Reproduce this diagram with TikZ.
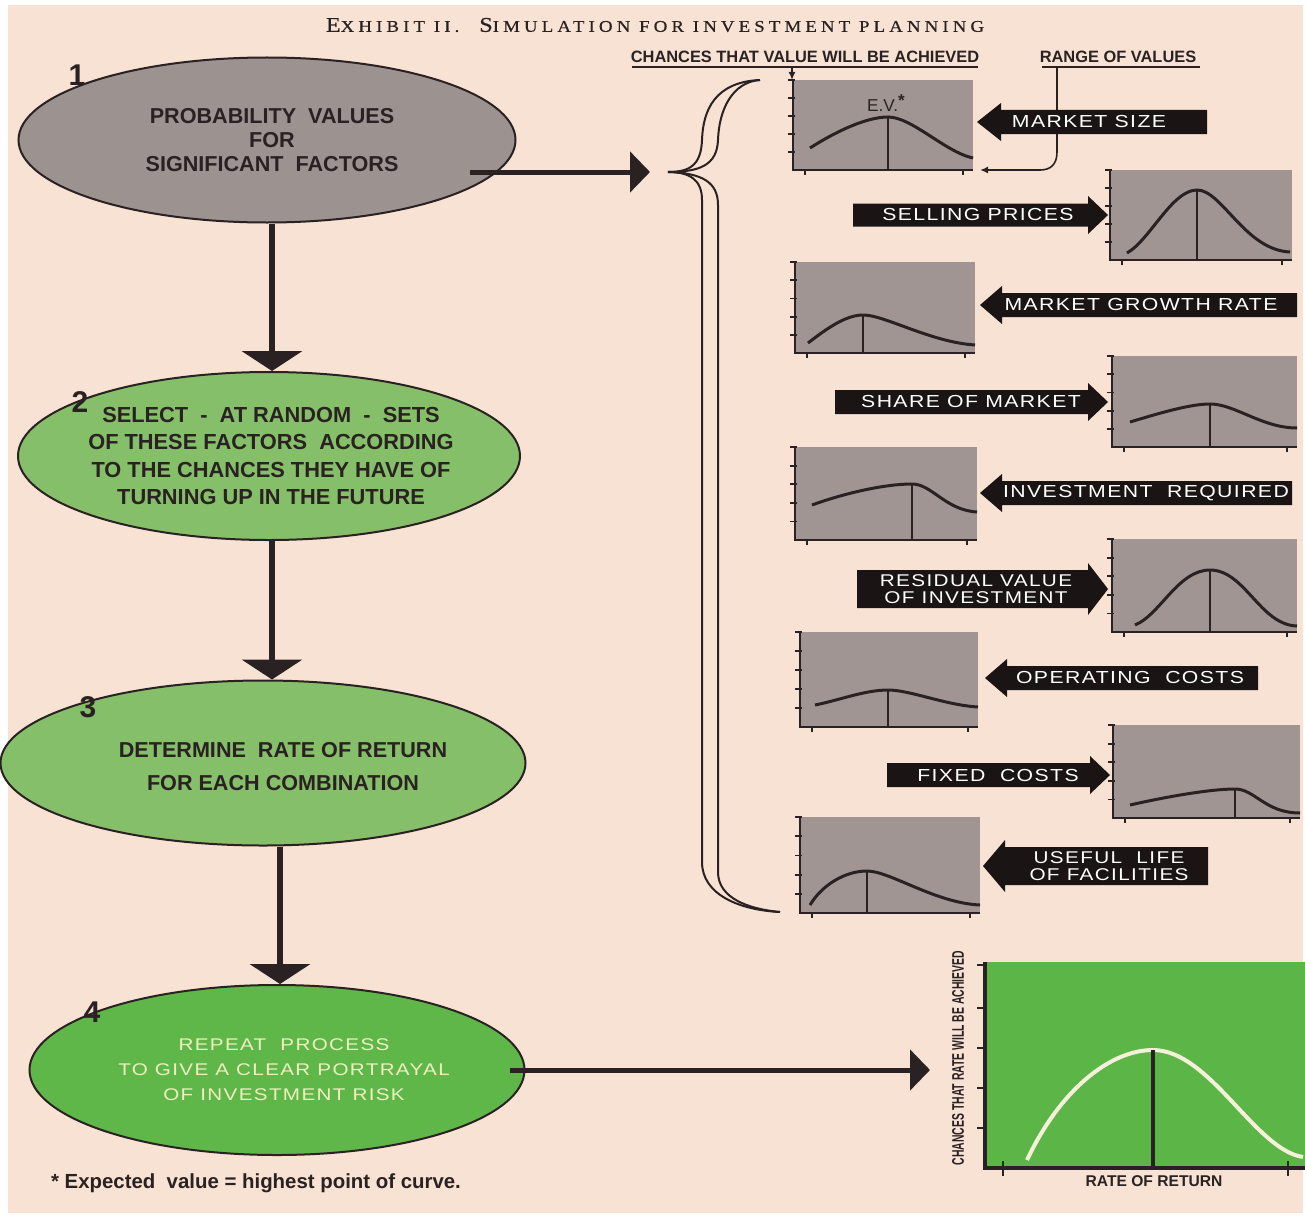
\documentclass[tikz,border=0pt]{standalone}
\usepackage{fontspec}
\newfontfamily\hv{Liberation Sans}
\newfontfamily\pen[FakeStretch=1.22,LetterSpace=8]{Liberation Sans}
\newfontfamily\ttl[FakeStretch=1.15,LetterSpace=25,FakeBold=0.6]{Liberation Serif}
\newfontfamily\cond[FakeStretch=0.62]{Liberation Sans}
\usetikzlibrary{arrows.meta,shapes.geometric}
\definecolor{bg}{HTML}{F8E2D3}
\definecolor{ellgray}{HTML}{9C9391}
\definecolor{ellgreen}{HTML}{86BF69}
\definecolor{ellgreenb}{HTML}{5FB74A}
\definecolor{panel}{HTML}{A09593}
\definecolor{chartgreen}{HTML}{5CB547}
\definecolor{ink}{HTML}{2A2222}
\definecolor{penfill}{HTML}{1A1414}
\definecolor{pale}{HTML}{EFF0BF}
\definecolor{curvewhite}{HTML}{F4F0DA}
\newcommand\gchart[4]{%
  \fill[panel] (#1,#2) rectangle (#3,#4);
  \draw[axisline] (#1,#2) -- (#1,#4) -- (#3,#4);
  \foreach \i in {0,...,4} \draw[tickline] ({#1-5},{#2+\i*(#4-#2)/5}) -- ({#1+2},{#2+\i*(#4-#2)/5});
  \draw[tickline] ({#1+12},#4) -- ({#1+12},{#4+5});
  \draw[tickline] ({#3-10},#4) -- ({#3-10},{#4+5});
}
\newcommand\penL[6]{%
  \fill[penfill] (#1,#3) -- ({#1+#6},{#3-#5}) -- ({#1+#6},{#3-#4}) -- (#2,{#3-#4}) -- (#2,{#3+#4}) -- ({#1+#6},{#3+#4}) -- ({#1+#6},{#3+#5}) -- cycle;}
\newcommand\penR[6]{%
  \fill[penfill] (#2,#3) -- ({#2-#6},{#3-#5}) -- ({#2-#6},{#3-#4}) -- (#1,{#3-#4}) -- (#1,{#3+#4}) -- ({#2-#6},{#3+#4}) -- ({#2-#6},{#3+#5}) -- cycle;}
\begin{document}
\begin{tikzpicture}[x=0.5pt,y=-0.5pt,
  ell/.style={ellipse, draw=ink, line width=1pt, inner sep=0pt},
  axisline/.style={draw=ink, line width=1.1pt},
  tickline/.style={draw=ink, line width=0.9pt},
  curveline/.style={draw=ink, line width=1.5pt},
  peakline/.style={draw=ink, line width=0.8pt},
  vbig/.style={draw=ink, line width=3pt, -{Triangle[width=30pt,length=10pt]}},
  hbig/.style={draw=ink, line width=2.5pt, -{Triangle[width=20pt,length=10pt]}},
  thinline/.style={draw=ink, line width=0.8pt},
  bracel/.style={draw=ink, line width=1pt},
  pentext/.style={text=white, font=\pen\fontsize{8.7}{9}\selectfont, align=center, inner sep=0pt},
  elltext/.style={text=ink, align=center, inner sep=0pt},
  numtext/.style={text=ink, font=\hv\bfseries\fontsize{15}{15}\selectfont, inner sep=0pt},
  head/.style={text=ink, font=\hv\bfseries\fontsize{8.2}{9}\selectfont, inner sep=0pt}
]
\fill[white] (0,0) rectangle (1305,1220);
\fill[bg] (8,5) rectangle (1303,1213);
\useasboundingbox (0,0) rectangle (1305,1220);

% title
\node[text=ink, inner sep=0pt] (title) at (655,25) {\ttl{\fontsize{10.5}{10}\selectfont E}{\fontsize{8.2}{10}\selectfont XHIBIT II.}\quad{\fontsize{10.5}{10}\selectfont S}{\fontsize{8.2}{10}\selectfont IMULATION FOR INVESTMENT PLANNING}};

% ellipses
\node[ell, fill=ellgray, minimum width=248.5pt, minimum height=82.5pt] (e1) at (267,140) {};
\node[ell, fill=ellgreen, minimum width=251pt, minimum height=84pt] (e2) at (269,456) {};
\node[ell, fill=ellgreen, minimum width=262.5pt, minimum height=82.5pt] (e3) at (263,763) {};
\node[ell, fill=ellgreenb, minimum width=247.5pt, minimum height=85pt] (e4) at (277,1070) {};

\node[elltext, font=\hv\bfseries\fontsize{10.8}{12}\selectfont] (t1) at (272,140) {PROBABILITY\ \ VALUES\\FOR\\SIGNIFICANT\ \ FACTORS};
\node[elltext, font=\hv\bfseries\fontsize{10.9}{13.7}\selectfont] (t2) at (271,456) {SELECT\ \ -\ \ AT RANDOM\ \ -\ \ SETS\\OF THESE FACTORS\ \ ACCORDING\\TO THE CHANCES THEY HAVE OF\\TURNING UP IN THE FUTURE};
\node[elltext, font=\hv\bfseries\fontsize{10.8}{16.5}\selectfont] (t3) at (283,767) {DETERMINE\ \ RATE OF RETURN\\FOR EACH COMBINATION};
\node[elltext, text=pale, font=\pen\fontsize{8.45}{12.5}\selectfont] (t4) at (284,1070) {REPEAT\ \ PROCESS\\TO GIVE A CLEAR PORTRAYAL\\OF INVESTMENT RISK};

\node[numtext] (n1) at (77,75) {1};
\node[numtext] (n2) at (80,402) {2};
\node[numtext] (n3) at (88,707) {3};
\node[numtext] (n4) at (92,1012) {4};

% vertical arrows
\draw[vbig] ([xshift=2.5pt]e1.south) -- ([xshift=2.5pt]e1.south |- e2.north);
\draw[vbig] ([xshift=1.5pt]e2.south) -- ([xshift=1.5pt]e2.south |- e3.north);
\draw[vbig] ([xshift=8.5pt]e3.south) -- ([xshift=8.5pt]e3.south |- e4.north);

% horizontal arrows
\coordinate (s1) at (470,172);
\coordinate (b1) at (650,172);
\draw[hbig] (s1) -- (b1);
\coordinate (s4) at (510,1070);
\coordinate (b4) at (930,1070);
\draw[hbig] (s4) -- (b4);

% brace
\draw[bracel] (760,80) .. controls (715,82) and (703,110) .. (702,140) .. controls (701,165) and (690,172) .. (668,172) .. controls (690,172) and (702,180) .. (702,200) -- (702,862) .. controls (702,895) and (740,910) .. (780,912);
\draw[bracel] (760,80) .. controls (732,82) and (719,110) .. (718,140) .. controls (717,165) and (700,172) .. (668,172) .. controls (702,173) and (718,182) .. (718,205) -- (718,872) .. controls (718,898) and (748,909) .. (780,912);

% header labels
\node[head] (h1) at (805,57) {CHANCES THAT VALUE WILL BE ACHIEVED};
\draw[thinline] (632,67) -- (978,67);
\coordinate (h1a) at (792,67);
\coordinate (c1top) at (792,80);
\draw[thinline, -{Latex[length=4pt,width=3.5pt]}] (h1a) -- (c1top);
\node[head] (h2) at (1118,57) {RANGE OF VALUES};
\draw[thinline] (1042,67) -- (1200,67);
\coordinate (h2a) at (1057,67);
\coordinate (c1right) at (980,170);
\draw[thinline, -{Latex[length=4pt,width=3.5pt]}] (h2a) -- (1057,152) .. controls (1057,165) and (1050,170) .. (1040,170) -- (c1right);

% small charts
\gchart{793}{80}{973}{170}
\draw[curveline] (810,148) .. controls (835,132) and (866,117) .. (888,117) .. controls (912,117) and (945,152) .. (973,158);
\draw[peakline] (888,117) -- (888,170);
\node[text=ink, inner sep=0pt, font=\hv\fontsize{8.6}{9}\selectfont] (ev) at (886,103) {E.V.\raisebox{2.5pt}{\bfseries *}};

\gchart{1110}{170}{1292}{260}
\draw[curveline] (1127,253) .. controls (1150,240) and (1172,190) .. (1197,190) .. controls (1222,190) and (1245,250) .. (1290,252);
\draw[peakline] (1197,190) -- (1197,260);

\gchart{795}{262}{975}{353}
\draw[curveline] (808,343) .. controls (825,330) and (845,315) .. (863,315) .. controls (885,315) and (930,342) .. (975,345);
\draw[peakline] (863,315) -- (863,353);

\gchart{1112}{356}{1297}{447}
\draw[curveline] (1130,422) .. controls (1160,413) and (1190,404) .. (1210,404) .. controls (1235,404) and (1262,428) .. (1297,428);
\draw[peakline] (1210,404) -- (1210,447);

\gchart{795}{447}{977}{540}
\draw[curveline] (812,505) .. controls (845,493) and (885,484) .. (912,484) .. controls (932,484) and (945,510) .. (977,512);
\draw[peakline] (912,484) -- (912,540);

\gchart{1112}{539}{1297}{632}
\draw[curveline] (1135,625) .. controls (1160,615) and (1178,570) .. (1210,570) .. controls (1245,570) and (1260,625) .. (1297,626);
\draw[peakline] (1210,570) -- (1210,632);

\gchart{800}{632}{978}{727}
\draw[curveline] (815,705) .. controls (840,700) and (865,690) .. (888,690) .. controls (910,690) and (945,705) .. (978,707);
\draw[peakline] (888,690) -- (888,727);

\gchart{1113}{725}{1300}{818}
\draw[curveline] (1130,805) .. controls (1165,797) and (1210,789) .. (1235,789) .. controls (1255,789) and (1265,813) .. (1300,813);
\draw[peakline] (1235,789) -- (1235,818);

\gchart{800}{817}{980}{913}
\draw[curveline] (810,905) .. controls (822,885) and (845,871) .. (867,871) .. controls (890,871) and (935,903) .. (980,905);
\draw[peakline] (867,871) -- (867,913);

% pennants
\penL{977}{1207}{122}{12}{19}{24}
\node[pentext] (p1) at (1089,122) {MARKET SIZE};
\penR{853}{1108}{215}{11.5}{19}{20}
\node[pentext] (p2) at (978,215) {SELLING PRICES};
\penL{980}{1297}{305}{12}{19}{22}
\node[pentext] (p3) at (1141,305) {MARKET GROWTH RATE};
\penR{835}{1108}{402}{12}{19}{20}
\node[pentext] (p4) at (971,402) {SHARE OF MARKET};
\penL{980}{1292}{493}{12}{19}{22}
\node[pentext] (p5) at (1146,493) {INVESTMENT\ \ REQUIRED};
\penR{857}{1108}{589}{19}{26}{20}
\node[pentext, font=\pen\fontsize{8.5}{8.5}\selectfont] (p6) at (976,589) {RESIDUAL VALUE\\OF INVESTMENT};
\penL{985}{1258}{678}{12}{19}{22}
\node[pentext] (p7) at (1130,678) {OPERATING\ \ COSTS};
\penR{887}{1110}{775}{12}{19}{20}
\node[pentext] (p8) at (998,775) {FIXED\ \ COSTS};
\penL{983}{1208}{866}{19}{26}{22}
\node[pentext, font=\pen\fontsize{8.5}{8.5}\selectfont] (p9) at (1109,866) {USEFUL\ \ LIFE\\OF FACILITIES};

% result chart
\fill[chartgreen] (985,962) rectangle (1305,1167);
\draw[draw=curvewhite, line width=2pt] (1027,1160) .. controls (1060,1090) and (1110,1050) .. (1153,1050) .. controls (1210,1050) and (1255,1150) .. (1303,1157);
\draw[draw=ink, line width=2.2pt] (1153,1050) -- (1153,1167);
\draw[draw=ink, line width=1.6pt] (985,962) -- (985,1168) -- (1305,1168);
\foreach \yy in {965,1008,1048,1088,1128} \draw[draw=ink, line width=1.3pt] (977,\yy) -- (985,\yy);
\draw[draw=ink, line width=1.3pt] (1003,1161) -- (1003,1176);
\draw[draw=ink, line width=1.3pt] (1288,1161) -- (1288,1176);
\node[rotate=90, text=ink, inner sep=0pt, font=\cond\bfseries\fontsize{8.4}{8}\selectfont] (ylab) at (958,1058) {CHANCES THAT RATE WILL BE ACHIEVED};
\node[text=ink, inner sep=0pt, font=\hv\bfseries\fontsize{7.8}{8}\selectfont] (xlab) at (1154,1181) {RATE OF RETURN};

% footnote
\node[text=ink, inner sep=0pt, font=\hv\bfseries\fontsize{10.2}{10}\selectfont] (fn) at (256,1183) {* Expected\ \ value = highest point of curve.};
\end{tikzpicture}
\end{document}
